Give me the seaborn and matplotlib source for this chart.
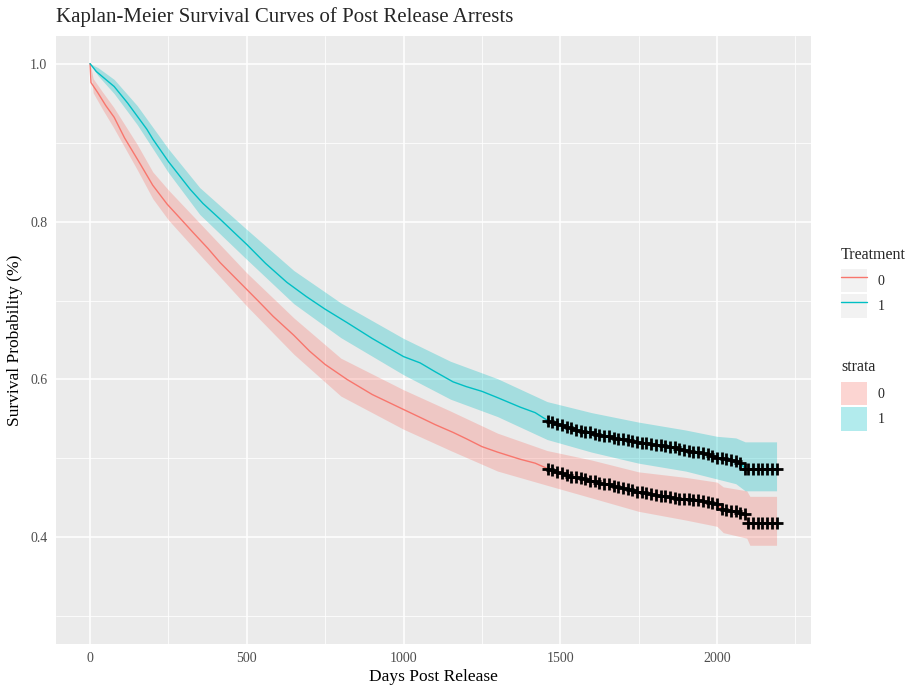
import numpy as np
import pandas as pd
import matplotlib
matplotlib.use("Agg")
import matplotlib.pyplot as plt
from matplotlib.lines import Line2D
from matplotlib.patches import Patch
from matplotlib.legend_handler import HandlerTuple
from matplotlib.ticker import MultipleLocator
import seaborn as sns

# Kaplan-Meier estimates, before censoring begins
early_days_0 = [0, 3, 25, 50, 77, 110, 160, 200, 246, 290, 329, 376, 415, 460,
                500, 540, 584, 650, 700, 750, 820, 900, 1000, 1053, 1100, 1158,
                1200, 1250, 1300, 1372, 1420]
early_surv_0 = [1.0, 0.976, 0.963, 0.947, 0.932, 0.906, 0.873, 0.846, 0.822,
                0.803, 0.786, 0.766, 0.748, 0.730, 0.714, 0.698, 0.680, 0.656,
                0.636, 0.619, 0.600, 0.581, 0.562, 0.552, 0.543, 0.533, 0.525,
                0.515, 0.508, 0.499, 0.494]
early_days_1 = [0, 20, 50, 77, 120, 181, 201, 250, 319, 360, 415, 460, 500, 560,
                628, 690, 750, 820, 900, 1000, 1053, 1100, 1158, 1200, 1250, 1300,
                1372, 1420]
early_surv_1 = [1.0, 0.990, 0.980, 0.971, 0.950, 0.917, 0.904, 0.876, 0.841,
                0.823, 0.803, 0.786, 0.771, 0.747, 0.723, 0.705, 0.689, 0.672,
                0.652, 0.629, 0.621, 0.610, 0.597, 0.591, 0.585, 0.577, 0.565,
                0.558]

# censored stretch: every point here carries a censor mark
tail_days = [1460, 1475, 1490, 1505, 1520, 1535, 1550, 1565, 1580, 1595, 1610,
             1625, 1640, 1655, 1670, 1685, 1700, 1715, 1730, 1745, 1760, 1775,
             1790, 1805, 1820, 1835, 1850, 1865, 1880, 1895, 1910, 1925, 1940,
             1955, 1970, 1985, 2000, 2015, 2030, 2045, 2060, 2075, 2090, 2100,
             2115, 2130, 2145, 2160, 2175, 2190]
tail_surv_0 = [0.487, 0.485, 0.483, 0.481, 0.479, 0.477, 0.476, 0.475, 0.474,
               0.472, 0.471, 0.469, 0.468, 0.467, 0.465, 0.464, 0.462, 0.461,
               0.460, 0.458, 0.457, 0.456, 0.455, 0.454, 0.453, 0.452, 0.451,
               0.450, 0.449, 0.449, 0.448, 0.447, 0.447, 0.446, 0.445, 0.444,
               0.442, 0.436, 0.435, 0.434, 0.433, 0.431, 0.429, 0.418, 0.418,
               0.418, 0.418, 0.418, 0.418, 0.418]
tail_surv_1 = [0.548, 0.546, 0.544, 0.542, 0.540, 0.538, 0.536, 0.535, 0.534,
               0.533, 0.531, 0.530, 0.529, 0.528, 0.526, 0.525, 0.524, 0.523,
               0.522, 0.521, 0.520, 0.519, 0.518, 0.517, 0.517, 0.516, 0.515,
               0.514, 0.512, 0.511, 0.509, 0.508, 0.508, 0.507, 0.505, 0.503,
               0.501, 0.500, 0.499, 0.498, 0.497, 0.494, 0.487, 0.487, 0.487,
               0.487, 0.487, 0.487, 0.487, 0.487]

# 95% confidence bands
band_days_0 = [0, 10, 40, 75, 150, 200, 250, 350, 500, 650, 800, 1000, 1150,
               1300, 1458, 1600, 1750, 1900, 2000, 2020, 2095, 2105, 2190]
upper_0 = [1.0, 0.981, 0.964, 0.945, 0.898, 0.863, 0.840, 0.798, 0.735, 0.678,
           0.627, 0.587, 0.560, 0.532, 0.510, 0.498, 0.483, 0.476, 0.470, 0.464,
           0.459, 0.452, 0.452]
lower_0 = [1.0, 0.963, 0.942, 0.919, 0.866, 0.829, 0.802, 0.758, 0.693, 0.632,
           0.579, 0.537, 0.510, 0.484, 0.466, 0.450, 0.433, 0.422, 0.414, 0.406,
           0.399, 0.390, 0.390]

band_days_1 = [0, 25, 77, 150, 250, 350, 500, 650, 800, 1000, 1150, 1300, 1458,
               1600, 1750, 1900, 2000, 2060, 2090, 2190]
upper_1 = [1.0, 0.995, 0.980, 0.947, 0.892, 0.843, 0.790, 0.738, 0.697, 0.652,
           0.623, 0.601, 0.572, 0.558, 0.546, 0.536, 0.528, 0.526, 0.521, 0.521]
lower_1 = [1.0, 0.985, 0.962, 0.923, 0.862, 0.809, 0.752, 0.696, 0.653, 0.606,
           0.575, 0.553, 0.524, 0.508, 0.494, 0.484, 0.474, 0.468, 0.459, 0.459]

groups = ["0", "1"]
colors = {"0": "#F8766D", "1": "#00BFC4"}

sns.set_theme(style="darkgrid")
plt.rcParams["font.family"] = ["Liberation Serif", "DejaVu Serif"]

df = pd.concat([
    pd.DataFrame({"days": early_days_0 + tail_days,
                  "surv": early_surv_0 + tail_surv_0, "Treatment": "0"}),
    pd.DataFrame({"days": early_days_1 + tail_days,
                  "surv": early_surv_1 + tail_surv_1, "Treatment": "1"}),
])
censored = df[df["days"] >= tail_days[0]]

fig = plt.figure(figsize=(9.12, 6.87), dpi=100)
ax = fig.add_axes([0.0611, 0.0626, 0.828, 0.885])
ax.set_facecolor("#EBEBEB")

# confidence ribbons
ax.fill_between(band_days_0, lower_0, upper_0, color=colors["0"], alpha=0.3, lw=0)
ax.fill_between(band_days_1, lower_1, upper_1, color=colors["1"], alpha=0.3, lw=0)

# survival curves
sns.lineplot(data=df, x="days", y="surv", hue="Treatment", palette=colors,
             estimator=None, sort=False, linewidth=1.0, legend=False, ax=ax)

# censor marks
ax.plot(censored["days"], censored["surv"], ls="none", marker="+", color="black",
        markersize=8, markeredgewidth=2.0, zorder=5)

ax.set_xlim(-109.5, 2299.5)
ax.set_ylim(0.2650, 1.0350)
ax.xaxis.set_major_locator(MultipleLocator(500))
ax.xaxis.set_minor_locator(MultipleLocator(250))
ax.yaxis.set_major_locator(MultipleLocator(0.2))
ax.yaxis.set_minor_locator(MultipleLocator(0.1))
ax.set_yticks([0.4, 0.6, 0.8, 1.0])
ax.set_yticklabels(["0.4", "0.6", "0.8", "1.0"])
ax.grid(which="major", color="white", linewidth=1.1)
ax.grid(which="minor", color="white", linewidth=0.55)
for s in ax.spines.values():
    s.set_visible(False)
ax.tick_params(which="major", length=3.5, width=0.8, color="#333333",
               labelsize=10, labelcolor="#4D4D4D", pad=2.5)
ax.tick_params(which="minor", length=0)

ax.set_xlabel("Days Post Release", fontsize=12.5, color="black", labelpad=3)
ax.set_ylabel("Survival Probability (%)", fontsize=12.5, color="black", labelpad=5)
fig.text(0.0611, 1 - 17 / 687, "Kaplan-Meier Survival Curves of Post Release Arrests",
         fontsize=15, ha="left", va="center")

# legends (titles placed as text so the key spacing matches ggplot)
key_bg = "#F2F2F2"
leg_kw = dict(loc="upper left", frameon=False, fontsize=10,
              handlelength=1.85, handleheight=2.2, labelspacing=0.15,
              handletextpad=0.8, borderpad=0, borderaxespad=0)
fig.text(841 / 912, 1 - 255 / 687, "Treatment", fontsize=11.5, va="center")
line_handles = [(Patch(facecolor=key_bg, edgecolor="none"),
                 Line2D([], [], color=colors[g], lw=1.0)) for g in groups]
fig.legend(line_handles, groups, bbox_to_anchor=(841 / 912, 1 - 269 / 687),
           handler_map={tuple: HandlerTuple(ndivide=1, pad=0)}, **leg_kw)
fig.text(841 / 912, 1 - 367 / 687, "strata", fontsize=11.5, va="center")
fill_handles = [Patch(facecolor=colors[g], alpha=0.3, edgecolor="none") for g in groups]
fig.legend(fill_handles, groups, bbox_to_anchor=(841 / 912, 1 - 382 / 687), **leg_kw)

fig.savefig("out.png", dpi=100)
